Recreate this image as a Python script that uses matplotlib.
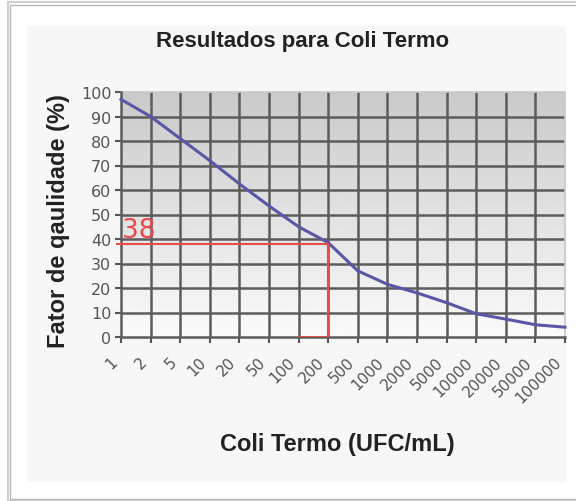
import numpy as np
import matplotlib
matplotlib.use("Agg")
import matplotlib.pyplot as plt
from matplotlib.patches import Rectangle
from matplotlib.transforms import ScaledTranslation

# data
ufc_labels = ["1", "2", "5", "10", "20", "50", "100", "200", "500", "1000",
              "2000", "5000", "10000", "20000", "50000", "100000"]
fator = [97, 90, 81, 72, 62.5, 53.5, 45, 38.5, 27, 21.5,
         18, 14, 9.5, 7.3, 5, 4]
marca_valor = 38
marca_idx = 7      # 200 UFC/mL
marca_base = 6     # 100 UFC/mL

plt.rcParams['font.family'] = ['Liberation Sans', 'DejaVu Sans']

fig = plt.figure(figsize=(5.76, 5.02), dpi=100)
W, H = 576, 502

def fx(px):
    return px / W

def fy(py):
    return 1 - py / H

# outer frame with a soft shadow
fig.patches.append(Rectangle((fx(8), fy(502)), fx(580), fy(3) - fy(502),
                             transform=fig.transFigure, facecolor="white",
                             edgecolor="#d0d0d0", lw=1.5, zorder=0))
fig.patches.append(Rectangle((fx(10), fy(500)), fx(575), fy(6) - fy(500),
                             transform=fig.transFigure, facecolor="white",
                             edgecolor="#b8b8b8", lw=1.0, zorder=0))
# chart area
fig.patches.append(Rectangle((fx(27), fy(483)), fx(566 - 27), fy(27) - fy(483),
                             transform=fig.transFigure, facecolor="#f7f7f7",
                             edgecolor="none", zorder=0))

ax = fig.add_axes([fx(121), fy(338), fx(565 - 121), fy(93) - fy(338)])
ax.set_zorder(2)

x = np.arange(len(ufc_labels))
n = len(x) - 1

# gray (top) to white (bottom) gradient in the plot area
grad = np.linspace(0.79, 0.98, 256).reshape(-1, 1)
ax.imshow(grad, extent=[0, n, 0, 100], origin="upper", aspect="auto",
          cmap="gray", vmin=0, vmax=1, zorder=0)

ax.set_xlim(0, n)
ax.set_ylim(0, 100)
ax.set_xticks(x)
ax.set_xticklabels([])
# rotated category labels, placed a bit left of their ticks like the original
lab_tr = ax.get_xaxis_transform() + ScaledTranslation(-11 / 100, -17 / 100,
                                                      fig.dpi_scale_trans)
for xi, lab in zip(x, ufc_labels):
    ax.text(xi, 0, lab, transform=lab_tr, rotation=45, ha="right", va="top",
            rotation_mode="anchor", fontsize=11, color="#555555",
            family=["DejaVu Sans"], clip_on=False)
ax.set_yticks(np.arange(0, 101, 10))
for lab in ax.get_yticklabels():
    lab.set_family(["DejaVu Sans"])
ax.tick_params(axis="y", labelsize=11.5, labelcolor="#555555", length=4,
               color="#555555", width=1.5, pad=3)
ax.tick_params(axis="x", length=4, color="#555555", width=1.5)

# dark inner grid, light outer edge on top/right
grid_c = "#5c5c5c"
for yv in range(10, 100, 10):
    ax.axhline(yv, color=grid_c, lw=1.8, zorder=1)
for xv in x[1:-1]:
    ax.axvline(xv, color=grid_c, lw=1.8, zorder=1)
for s in ("top", "right"):
    ax.spines[s].set_color("#c8c8c8")
    ax.spines[s].set_linewidth(1.2)
for s in ("bottom", "left"):
    ax.spines[s].set_color(grid_c)
    ax.spines[s].set_linewidth(1.8)
    ax.spines[s].set_zorder(3)

ax.plot(x, fator, color="#5858a6", lw=2.2, zorder=4, clip_on=False)

# red marker lines
red = "#e84a4a"
ax.plot([-0.15, marca_idx], [marca_valor, marca_valor], color=red, lw=1.5,
        zorder=5, clip_on=False)
ax.plot([marca_idx, marca_idx], [marca_valor, 0], color=red, lw=1.5, zorder=5)
ax.plot([marca_base, marca_idx], [0, 0], color=red, lw=2, zorder=5)
ax.text(0.05, 41, str(marca_valor), color=red, fontsize=19,
        family=["DejaVu Sans"], ha="left", va="baseline", zorder=6)

fig.text(fx(303), fy(41), "Resultados para Coli Termo", ha="center",
         va="center", fontsize=16, fontweight="bold", color="#222222")
fig.text(fx(58), fy(221), "Fator de qaulidade (%)", ha="center", va="center",
         rotation=90, fontsize=17, fontweight="bold", color="#222222")
fig.text(fx(337), fy(445), "Coli Termo (UFC/mL)", ha="center", va="center",
         fontsize=17, fontweight="bold", color="#222222")

fig.savefig("out.png", dpi=100)
